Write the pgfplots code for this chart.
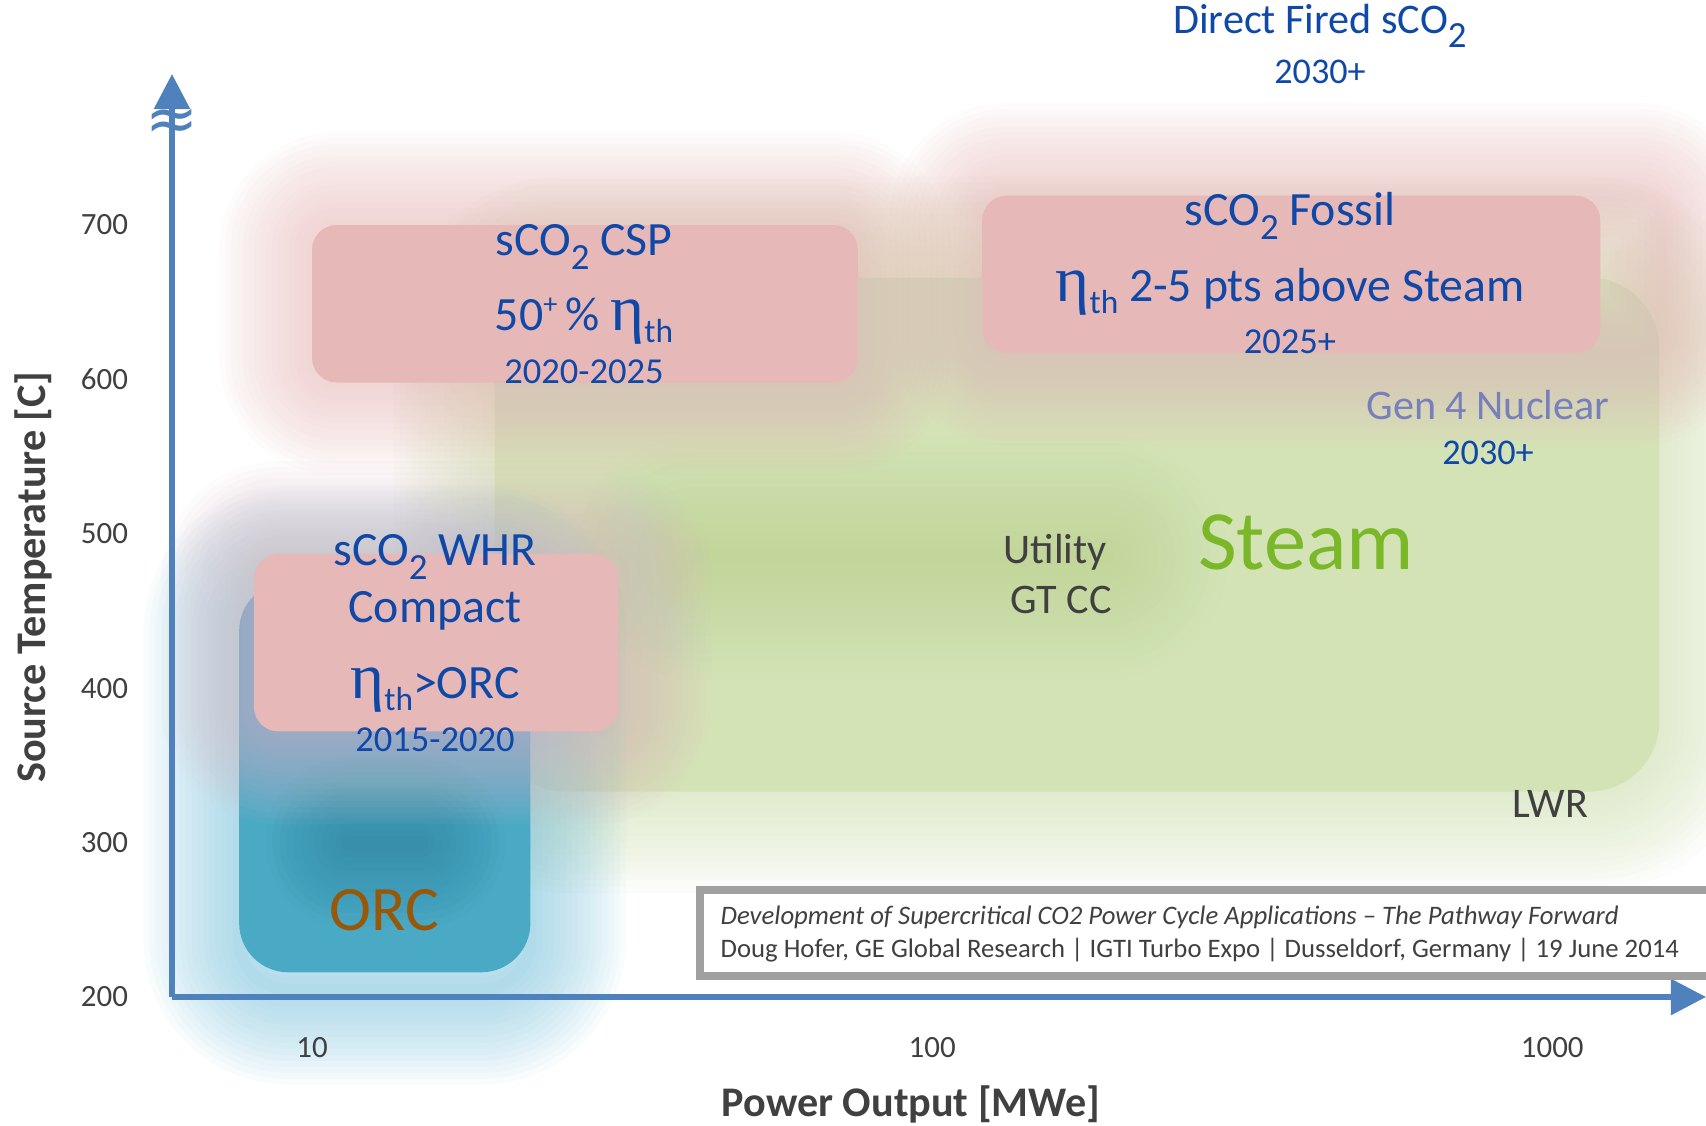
\documentclass[border=0pt]{standalone}
\usepackage{pgfplots}
\pgfplotsset{compat=1.18}
\usetikzlibrary{arrows.meta}
\usepackage{fontspec}
\setmainfont{Carlito}
\newfontfamily\etafont{Liberation Serif}
\newfontfamily\symfont{DejaVu Sans}

\definecolor{axisblue}{RGB}{79,129,189}
\definecolor{txtblue}{RGB}{16,72,168}
\definecolor{boxpink}{RGB}{230,184,183}
\definecolor{halopink}{RGB}{232,186,186}
\definecolor{steamgreen}{RGB}{122,184,42}
\definecolor{boxgreen}{RGB}{212,227,182}
\definecolor{halogreen}{RGB}{205,222,175}
\definecolor{darkgreen}{RGB}{176,204,128}
\definecolor{orcteal}{RGB}{74,170,197}
\definecolor{haloteal}{RGB}{120,192,218}
\definecolor{darkteal}{RGB}{40,115,145}
\definecolor{mauve}{RGB}{218,186,196}
\definecolor{nuclear}{RGB}{120,128,188}
\definecolor{orcbrown}{RGB}{152,88,10}
\definecolor{txtgray}{RGB}{64,64,64}
\definecolor{refgray}{RGB}{160,160,160}

\newcommand{\fs}[1]{\fontsize{#1}{#1}\selectfont}
\newcommand{\subtwo}{\raisebox{-4pt}{\fs{10.5}2}}
\newcommand{\etath}{{\etafont\fs{18.5}η}\raisebox{-3.3pt}{\fs{9.5}th}}

\begin{document}
\begin{tikzpicture}
\path[use as bounding box] (-1.72cm,-1.28cm) rectangle (15.34cm,9.97cm);
\begin{axis}[
  at={(0,0)}, anchor=south west,
  scale only axis, width=15.34cm, height=9.23cm,
  xmode=log, xmin=5.946, xmax=1770, ymin=200, ymax=797.8,
  axis lines=left, axis on top, clip=false,
  axis line style={draw=axisblue, line width=1.6pt},
  x axis line style={-{Triangle[length=10pt,width=10pt]}},
  y axis line style={-{Triangle[length=10pt,width=10pt]}},
  tick style={draw=none}, major tick length=0pt, minor tick length=0pt,
  xtick={10,100,1000}, xticklabels={10,100,1000},
  ytick={200,300,400,500,600,700}, yticklabels={200,300,400,500,600,700},
  tick label style={font=\fs{8.8}, text=txtgray},
  xticklabel style={yshift=-8pt},
  yticklabel style={xshift=-9pt},
]
% ---- Steam region (green) ----
\pgfplotsinvokeforeach{1,...,16}{
  \addplot[draw=halogreen, draw opacity=0.055, line width={#1*3.6pt}, line join=round, rounded corners=20pt]
    coordinates {(19.7,333) (1488,333) (1488,666) (19.7,666)} -- cycle;
}
\addplot[fill=boxgreen, draw=none, rounded corners=20pt]
  coordinates {(19.7,333) (1488,333) (1488,666) (19.7,666)} -- cycle;
\pgfplotsinvokeforeach{1,...,14}{
  \addplot[draw=darkgreen, draw opacity=0.035, line width={#1*5pt}, line cap=round]
    coordinates {(42,485) (190,485)};
}
% ---- pink halos ----
\pgfplotsinvokeforeach{1,...,16}{
  \addplot[draw=halopink, draw opacity=0.055, line width={#1*3.3pt}, line join=round, rounded corners=7pt]
    coordinates {(10.0,598) (75.9,598) (75.9,700) (10.0,700)} -- cycle;
  \addplot[draw=halopink, draw opacity=0.055, line width={#1*3.3pt}, line join=round, rounded corners=7pt]
    coordinates {(120.4,617) (1500,617) (1500,719) (120.4,719)} -- cycle;
}
% ---- ORC (teal) ----
\pgfplotsinvokeforeach{1,...,16}{
  \addplot[draw=haloteal, draw opacity=0.05, line width={#1*3.4pt}, line join=round, rounded corners=14pt]
    coordinates {(7.63,205) (22.5,205) (22.5,469) (7.63,469)} -- cycle;
}
\addplot[fill=orcteal, draw=none, rounded corners=14pt]
  coordinates {(7.63,216) (22.5,216) (22.5,469) (7.63,469)} -- cycle;
\pgfplotsinvokeforeach{1,...,12}{
  \addplot[draw=darkteal, draw opacity=0.045, line width={#1*4pt}, line cap=round]
    coordinates {(11.5,300) (15.0,300)};
}
% ---- WHR halo (mauve) ----
\pgfplotsinvokeforeach{1,...,16}{
  \addplot[draw=mauve, draw opacity=0.055, line width={#1*3.3pt}, line join=round, rounded corners=7pt]
    coordinates {(8.06,372) (31.2,372) (31.2,487) (8.06,487)} -- cycle;
}
% ---- solid pink boxes ----
\addplot[fill=boxpink, draw=none, rounded corners=7pt]
  coordinates {(10.0,598) (75.9,598) (75.9,700) (10.0,700)} -- cycle;
\addplot[fill=boxpink, draw=none, rounded corners=7pt]
  coordinates {(120.4,617) (1195,617) (1195,719) (120.4,719)} -- cycle;
\addplot[fill=boxpink, draw=none, rounded corners=7pt]
  coordinates {(8.06,372) (31.2,372) (31.2,487) (8.06,487)} -- cycle;
\end{axis}

% axis break
\node[text=axisblue, font=\symfont\fs{18}] at (0,8.72) {≈};

% axis titles
\node[rotate=90, font=\bfseries\fs{12}, text=txtgray] at (-1.39,4.20) {Source Temperature [C]};
\node[font=\bfseries\fs{12}, text=txtgray] at (7.39,-1.07) {Power Output [MWe]};

% texts
\node[text=txtblue, font=\fs{12}] at (11.48,9.71) {Direct Fired sCO\subtwo};
\node[text=txtblue, font=\fs{10.3}] at (11.48,9.25) {2030+};

\node[text=txtblue, font=\fs{13.6}] at (4.12,7.50) {sCO\subtwo{} CSP};
\node[text=txtblue, font=\fs{13.6}] at (4.12,6.76) {50\raisebox{5pt}{\fs{8}+}\,\% \etath};
\node[text=txtblue, font=\fs{10.4}] at (4.12,6.25) {2020-2025};

\node[text=txtblue, font=\fs{13.6}] at (11.18,7.81) {sCO\subtwo{} Fossil};
\node[text=txtblue, font=\fs{13.6}] at (11.18,7.05) {\etath{} 2-5 pts above Steam};
\node[text=txtblue, font=\fs{10.4}] at (11.18,6.55) {2025+};

\node[text=nuclear, font=\fs{12}] at (13.16,5.92) {Gen 4 Nuclear};
\node[text=txtblue, font=\fs{10.3}] at (13.16,5.44) {2030+};

\node[text=steamgreen, font=\fs{24}] at (11.34,4.55) {Steam};
\node[text=txtgray, font=\fs{12}] at (8.83,4.45) {Utility};
\node[text=txtgray, font=\fs{12}] at (8.89,3.97) {GT CC};
\node[text=txtgray, font=\fs{12}] at (13.78,1.93) {LWR};

\node[text=txtblue, font=\fs{13.6}] at (2.63,4.40) {sCO\subtwo{} WHR};
\node[text=txtblue, font=\fs{13.6}] at (2.63,3.86) {Compact};
\node[text=txtblue, font=\fs{13.6}] at (2.63,3.07) {\etath>ORC};
\node[text=txtblue, font=\fs{10.4}] at (2.63,2.57) {2015-2020};

\node[text=orcbrown, font=\fs{18}] at (2.12,0.87) {ORC};

% reference box
\draw[refgray, line width=2pt, fill=white] (5.28,0.21) rectangle (15.8,1.07);
\node[anchor=west, text=txtgray, font=\fs{7.6}\itshape, inner sep=0pt] at (5.48,0.80) {Development of Supercritical CO2 Power Cycle Applications – The Pathway Forward};
\node[anchor=west, text=txtgray, font=\fs{7.6}, inner sep=0pt] at (5.48,0.47) {Doug Hofer, GE Global Research | IGTI Turbo Expo | Dusseldorf, Germany | 19 June 2014};
\end{tikzpicture}
\end{document}
